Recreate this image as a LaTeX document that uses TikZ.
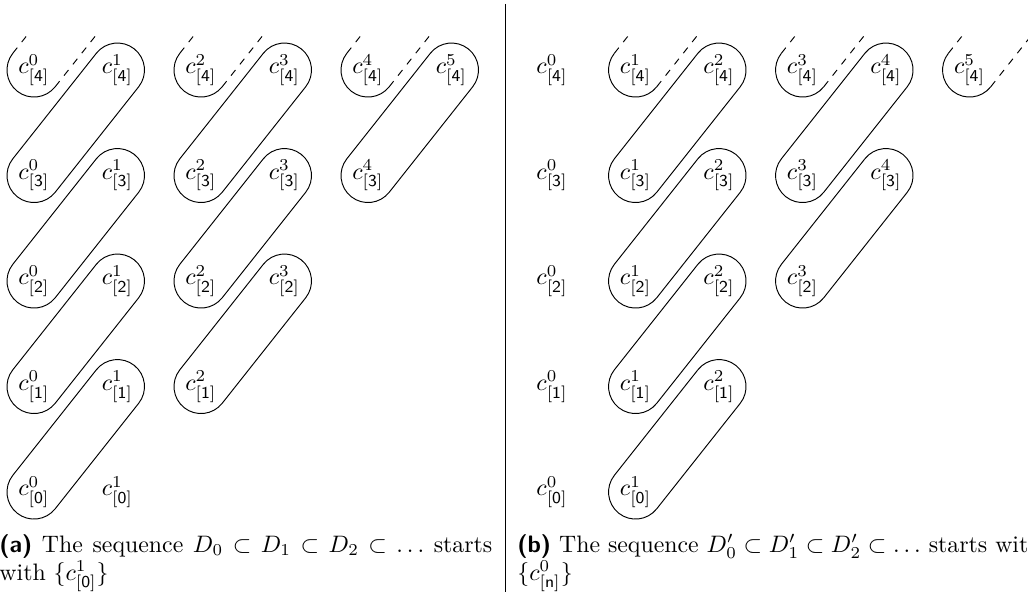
\documentclass[tikz,border=0pt]{standalone}
\usepackage{tikz}
\usetikzlibrary{calc}

\begin{document}
\begin{tikzpicture}[x=35.07pt, y=44.31pt,
        elem/.style={inner sep=1pt},
        band/.style={thin},
        open/.style={thin, dashed}]

        \def\pang{51.64}
        \def\prad{11.34pt}

        \useasboundingbox (-0.407,-0.995) rectangle (11.904,4.664);
        \clip (-0.407,-0.995) rectangle (11.904,4.664);

        % elements c^k_[n], left (a) and right (b)
        \foreach \k in {0,...,5} {
          \pgfmathtruncatemacro{\nlow}{max(0,\k-1)}
          \foreach \n in {\nlow,...,4} {
            \node[elem] (a-\k-\n) at (\k,\n) {$c^{\k}_{\mathsf{[\n]}}$};
            \node[elem] (b-\k-\n) at (\k+6.204,\n) {$c^{\k}_{\mathsf{[\n]}}$};
          }
        }

        % closed bands
        \foreach \p/\k/\n in {a/0/0, a/0/1, a/0/2, a/0/3, a/2/1, a/2/2, a/2/3, a/4/3,
                              b/1/0, b/1/1, b/1/2, b/1/3, b/3/2, b/3/3} {
          \pgfmathtruncatemacro{\kk}{\k+1}
          \pgfmathtruncatemacro{\nn}{\n+1}
          \draw[band] ($(\p-\k-\n)+({\pang+90}:\prad)$)
            arc[start angle=\pang+90, end angle=\pang+270, radius=\prad]
            -- ($(\p-\kk-\nn)+({\pang-90}:\prad)$)
            arc[start angle=\pang-90, end angle=\pang+90, radius=\prad] -- cycle;
        }

        % open bands in the top row
        \begin{scope}
          \clip (-0.407,-0.995) rectangle (11.904,4.360);
          \foreach \p/\k in {a/0, a/2, a/4, b/1, b/3, b/5} {
            \draw[band] ($(\p-\k-4)+({\pang+90}:\prad)$)
              arc[start angle=\pang+90, end angle=\pang+270, radius=\prad];
            \draw[open] ($(\p-\k-4)+({\pang+90}:\prad)$) -- ++(\pang:40pt);
            \draw[open] ($(\p-\k-4)+({\pang-90}:\prad)$) -- ++(\pang:40pt);
          }
        \end{scope}

        % separator
        \coordinate (sep-top) at (5.641,4.626);
        \coordinate (sep-bot) at (5.641,-0.948);
        \draw (sep-top) -- (sep-bot);

        % captions
        \node[anchor=base west, inner sep=0] (cap-a1) at (-0.419,-0.569)
          {\makebox[207pt][s]{\textsf{\bfseries (a)} The sequence $D_0 \subset D_1 \subset D_2 \subset \ldots$ starts}};
        \node[anchor=base west, inner sep=0] (cap-a2) at (-0.419,-0.834)
          {with $\{c^1_{\mathsf{[0]}}\}$};
        \node[anchor=base west, inner sep=0] (cap-b1) at (5.784,-0.569)
          {\textsf{\bfseries (b)} The sequence $D'_0 \subset D'_1 \subset D'_2 \subset \ldots$ starts with};
        \node[anchor=base west, inner sep=0] (cap-b2) at (5.784,-0.834)
          {$\{c^0_{\mathsf{[n]}}\}$};
\end{tikzpicture}
\end{document}
